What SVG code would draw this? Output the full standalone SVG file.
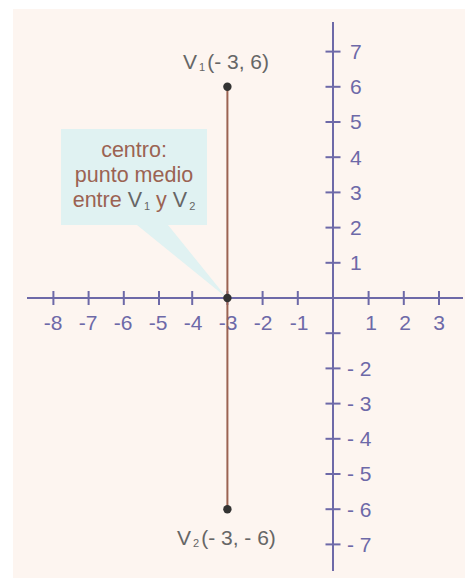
<svg xmlns="http://www.w3.org/2000/svg" width="465" height="578" viewBox="0 0 465 578">
<style>
.ax{stroke:#6d69a8;stroke-width:2;fill:none}
.tk{stroke:#6d69a8;stroke-width:2}
.lbl{font-family:"Liberation Sans",Arial,sans-serif;font-size:21px;fill:#6d69a8}
.xl{text-anchor:middle}
.gr{font-family:"Liberation Sans",Arial,sans-serif;font-size:21px;fill:#666666}
.br{font-family:"Liberation Sans",Arial,sans-serif;font-size:21.5px;fill:#9b6352;text-anchor:middle}
.sub{font-size:11px}
.dot{fill:#333333}
</style>
<rect x="13" y="9" width="452" height="569" fill="#fdf5f0"/>
<g id="axes">
<line class="ax" x1="27" y1="298" x2="463" y2="298"/>
<line class="ax" x1="333" y1="22" x2="333" y2="571"/>
<g class="tk">
<line x1="53.4" y1="291" x2="53.4" y2="305"/>
<line x1="88.6" y1="291" x2="88.6" y2="305"/>
<line x1="123.8" y1="291" x2="123.8" y2="305"/>
<line x1="159" y1="291" x2="159" y2="305"/>
<line x1="192.2" y1="291" x2="192.2" y2="305"/>
<line x1="227.4" y1="291" x2="227.4" y2="305"/>
<line x1="262.6" y1="291" x2="262.6" y2="305"/>
<line x1="297.8" y1="291" x2="297.8" y2="305"/>
<line x1="368.6" y1="291" x2="368.6" y2="305"/>
<line x1="403.8" y1="291" x2="403.8" y2="305"/>
<line x1="439" y1="291" x2="439" y2="305"/>
<line x1="325.5" y1="51.6" x2="340.5" y2="51.6"/>
<line x1="325.5" y1="86.8" x2="340.5" y2="86.8"/>
<line x1="325.5" y1="122" x2="340.5" y2="122"/>
<line x1="325.5" y1="157.2" x2="340.5" y2="157.2"/>
<line x1="325.5" y1="192.4" x2="340.5" y2="192.4"/>
<line x1="325.5" y1="227.6" x2="340.5" y2="227.6"/>
<line x1="325.5" y1="262.8" x2="340.5" y2="262.8"/>
<line x1="325.5" y1="333.2" x2="340.5" y2="333.2"/>
<line x1="325.5" y1="368.4" x2="340.5" y2="368.4"/>
<line x1="325.5" y1="403.6" x2="340.5" y2="403.6"/>
<line x1="325.5" y1="438.8" x2="340.5" y2="438.8"/>
<line x1="325.5" y1="474" x2="340.5" y2="474"/>
<line x1="325.5" y1="509.2" x2="340.5" y2="509.2"/>
<line x1="325.5" y1="544.4" x2="340.5" y2="544.4"/>
</g>
<g class="lbl xl">
<text x="53" y="330">-8</text>
<text x="88" y="330">-7</text>
<text x="123" y="330">-6</text>
<text x="158" y="330">-5</text>
<text x="193" y="330">-4</text>
<text x="228" y="330">-3</text>
<text x="263" y="330">-2</text>
<text x="299" y="330">-1</text>
<text x="371" y="330">1</text>
<text x="405" y="330">2</text>
<text x="439" y="330">3</text>
</g>
<g class="lbl">
<text x="350" y="59">7</text>
<text x="350" y="94.2">6</text>
<text x="350" y="129.4">5</text>
<text x="350" y="164.6">4</text>
<text x="350" y="199.8">3</text>
<text x="350" y="235">2</text>
<text x="350" y="270.2">1</text>
<text x="347" y="375.8">- 2</text>
<text x="347" y="411">- 3</text>
<text x="347" y="446.2">- 4</text>
<text x="347" y="481.4">- 5</text>
<text x="347" y="516.6">- 6</text>
<text x="347" y="551.8">- 7</text>
</g>
</g>
<g id="callout">
<polygon points="61,129 207,129 207,225 168,225 227,298 137,225 61,225" fill="#e0f2f2"/>
<text class="br" x="134" y="157">centro:</text>
<text class="br" x="134" y="182">punto medio</text>
<text class="br" x="134" y="207">entre <tspan fill="#666666">V<tspan class="sub" dx="2" dy="3">1</tspan></tspan><tspan dy="-3"> y </tspan><tspan fill="#666666">V<tspan class="sub" dx="2" dy="3">2</tspan></tspan></text>
</g>
<g id="connectors">
<line x1="227.4" y1="86.8" x2="227.4" y2="509.2" stroke="#9b6352" stroke-width="2"/>
</g>
<g id="V1">
<circle class="dot" cx="227.4" cy="86.8" r="4.2"/>
<text class="gr" x="183" y="68.5">V<tspan class="sub" dx="2" dy="2">1</tspan><tspan dx="2" dy="-2">(- 3, 6)</tspan></text>
</g>
<g id="center">
<circle class="dot" cx="227.4" cy="298" r="4.2"/>
</g>
<g id="V2">
<circle class="dot" cx="227.4" cy="509.2" r="4.2"/>
<text class="gr" x="177" y="545">V<tspan class="sub" dx="2" dy="2">2</tspan><tspan dx="2" dy="-2">(- 3, - 6)</tspan></text>
</g>
</svg>
